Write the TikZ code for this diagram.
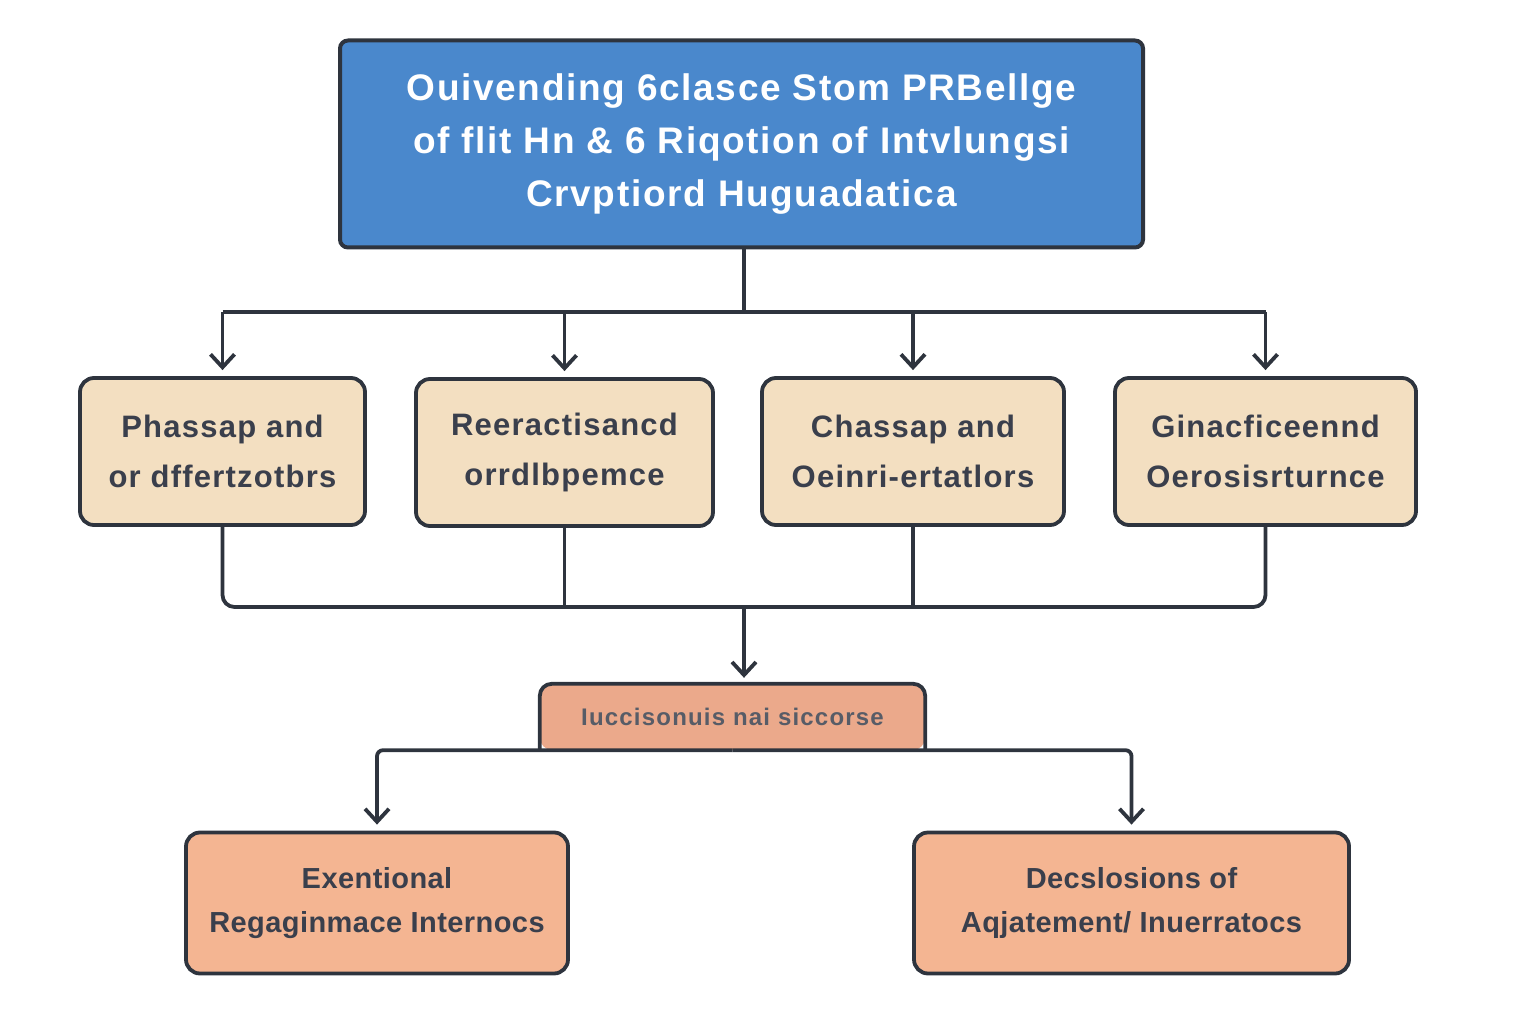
\documentclass[tikz,border=0pt]{standalone}
\usepackage{fontspec}
\setmainfont{Liberation Sans}
\usetikzlibrary{arrows.meta}
\definecolor{topblue}{HTML}{4A88CC}
\definecolor{wheatbox}{HTML}{F3DFC1}
\definecolor{midsalmon}{HTML}{EBA98B}
\definecolor{lowsalmon}{HTML}{F4B592}
\definecolor{inkline}{HTML}{2E343E}
\definecolor{inktext}{HTML}{3A3F4C}

\begin{document}
\begin{tikzpicture}[x=1pt,y=-1pt,
  box/.style={draw=inkline,line width=3.8pt,rounded corners=14pt,align=center,inner sep=0pt,text=inktext},
  link/.style={draw=inkline,line width=3.8pt},
  arr/.style={link,-{Straight Barb[length=13pt,width=24pt,line width=3.8pt]},shorten >=6pt}]
\useasboundingbox (0,0) rectangle (1536,1024);
\node (head) [box,fill=topblue,rounded corners=8pt,line width=4pt,text=white,minimum width=803pt,minimum height=207pt,font=\fontsize{37}{53}\selectfont\bfseries\addfontfeature{LetterSpace=4.5}] at (741.5,144) {Ouivending 6clasce Stom PRBellge\\of flit Hn \& 6 Riqotion of Intvlungsi\\Crvptiord Huguadatica};
\node (phassap) [box,fill=wheatbox,minimum width=285pt,minimum height=147pt,font=\fontsize{31}{50}\selectfont\bfseries\addfontfeature{LetterSpace=4}] at (222.5,451.5) {Phassap and\\or dffertzotbrs};
\node (reeract) [box,fill=wheatbox,minimum width=297pt,minimum height=147pt,font=\fontsize{31}{50}\selectfont\bfseries\addfontfeature{LetterSpace=4}] at (564.5,452.5) {Reeractisancd\\orrdlbpemce};
\node (chassap) [box,fill=wheatbox,minimum width=302pt,minimum height=147pt,font=\fontsize{31}{50}\selectfont\bfseries\addfontfeature{LetterSpace=4}] at (913,451.5) {Chassap and\\Oeinri-ertatlors};
\node (ginacf) [box,fill=wheatbox,minimum width=301pt,minimum height=147pt,font=\fontsize{31}{50}\selectfont\bfseries\addfontfeature{LetterSpace=4}] at (1265.5,451.5) {Ginacficeennd\\Oerosisrturnce};
\node (merge) [fill=midsalmon,rounded corners=12pt,inner sep=0pt,minimum width=385pt,minimum height=66pt,text=inktext!85,font=\fontsize{24}{28}\selectfont\bfseries\addfontfeature{LetterSpace=5}] at (732.5,717) {Iuccisonuis nai siccorse};
\draw [link,rounded corners=12pt] (merge.south west) -- (merge.north west) -- (merge.north east) -- (merge.south east);
\node (exent) [box,fill=lowsalmon,minimum width=382pt,minimum height=141pt,font=\fontsize{29}{44}\selectfont\bfseries\addfontfeature{LetterSpace=1.5}] at (377,903) {Exentional\\Regaginmace Internocs};
\node (decsl) [box,fill=lowsalmon,minimum width=435pt,minimum height=141pt,font=\fontsize{29}{44}\selectfont\bfseries\addfontfeature{LetterSpace=1.5}] at (1131.5,903) {Decslosions of\\Aqjatement/ Inuerratocs};
\coordinate (split) at (744,312);
\coordinate (join) at (744,607);
\draw [link] (head.south -| split) -- (split);
\draw [link] (phassap.north |- split) -- (ginacf.north |- split);
\draw [arr] (phassap.north |- split) -- (phassap.north);
\draw [arr] (reeract.north |- split) -- (reeract.north);
\draw [arr] (chassap.north |- split) -- (chassap.north);
\draw [arr] (ginacf.north |- split) -- (ginacf.north);
\draw [link,rounded corners=12pt] (phassap.south) |- (join) -| (ginacf.south);
\draw [link] (reeract.south) -- (reeract.south |- join);
\draw [link] (chassap.south) -- (chassap.south |- join);
\draw [arr] (join) -- (join |- merge.north);
\draw [arr,rounded corners=6pt] (merge.south) -| (exent.north);
\draw [arr,rounded corners=6pt] (merge.south) -| (decsl.north);
\end{tikzpicture}
\end{document}
